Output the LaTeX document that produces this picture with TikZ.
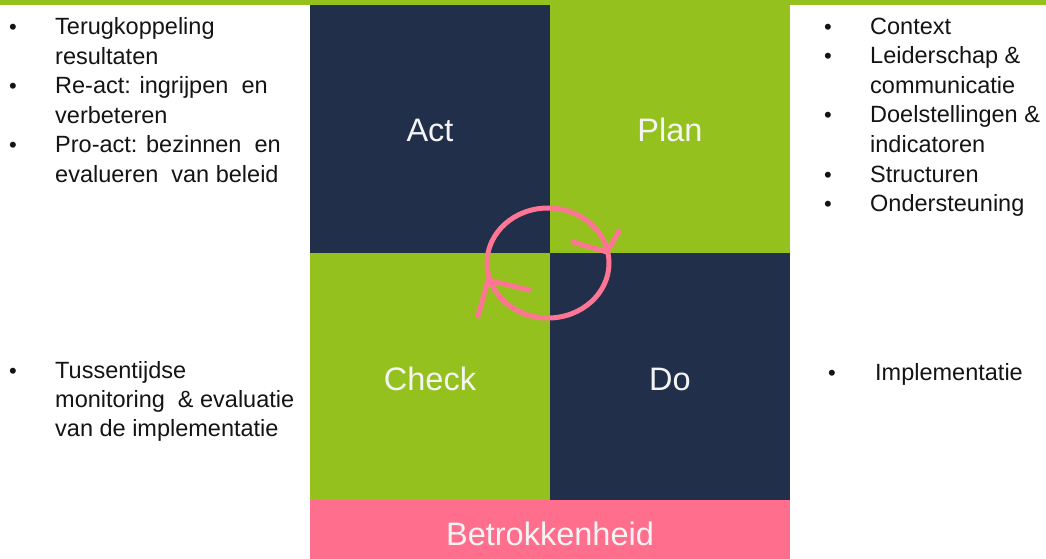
\documentclass[tikz,border=0pt]{standalone}
\usepackage{fontspec}
\setmainfont{Liberation Sans}
\definecolor{navy}{HTML}{212F4B}
\definecolor{lgreen}{HTML}{95C11F}
\definecolor{rose}{HTML}{FF6F8D}
\definecolor{arrowpink}{HTML}{FF7594}
\definecolor{txtwhite}{HTML}{F4F4F4}
\definecolor{txtdark}{HTML}{141414}
\begin{document}
\begin{tikzpicture}[x=1pt,y=-1pt,
  tile/.style={draw=none,inner sep=0pt,outer sep=0pt,anchor=north west},
  biglabel/.style={inner sep=0pt,anchor=base,text=txtwhite,font=\fontsize{32.5}{36}\selectfont},
  line/.style={inner sep=0pt,anchor=base west,text=txtdark,font=\fontsize{23.5}{29}\selectfont},
  bul/.style={inner sep=0pt,anchor=base,text=txtdark,font=\fontsize{22}{24}\selectfont},
  cyc/.style={draw=arrowpink,line width=5pt,line cap=round,line join=round}]
\useasboundingbox (0,0) rectangle (1046,559);
\fill[white] (0,0) rectangle (1046,559);
% top bar
\node[tile,fill=lgreen,minimum width=1046pt,minimum height=5pt] (topbar) at (0,0) {};
% tiles
\node[tile,fill=navy,minimum width=240pt,minimum height=248pt] (act) at (310,5) {};
\node[tile,fill=lgreen,minimum width=240pt,minimum height=248pt] (plan) at (550,5) {};
\node[tile,fill=lgreen,minimum width=240pt,minimum height=247pt] (check) at (310,253) {};
\node[tile,fill=navy,minimum width=240pt,minimum height=247pt] (do) at (550,253) {};
\node[tile,fill=rose,minimum width=480pt,minimum height=59pt] (betr) at (310,500) {};
% labels
\node[biglabel] (lact) at (430,142) {Act};
\node[biglabel] (lplan) at (670,142) {Plan};
\node[biglabel] (lcheck) at (430,390) {Check};
\node[biglabel] (ldo) at (670,390) {Do};
\node[biglabel] (lbetr) at (550,545) {Betrokkenheid};
% cycle
\draw[cyc] (548,263) ellipse [x radius=61, y radius=55];
\coordinate (a1s) at (573,242);
\coordinate (a1t) at (607,252);
\coordinate (a1e) at (619,231);
\coordinate (a2s) at (529,290);
\coordinate (a2t) at (488,280);
\coordinate (a2e) at (478,316);
\draw[cyc] (a1s) -- (a1t) -- (a1e);
\draw[cyc] (a2s) -- (a2t) -- (a2e);
% left top list
\node[bul] (b1) at (13,35) {•};
\node[line] (t1) at (55,35) {Terugkoppeling};
\node[line] (t2) at (55,64.5) {resultaten};
\node[bul] (b2) at (13,94) {•};
\node[line] (t3) at (55,94) {Re-act: ingrijpen\ \ en};
\node[line] (t4) at (55,123.5) {verbeteren};
\node[bul] (b3) at (13,153) {•};
\node[line] (t5) at (55,153) {Pro-act: bezinnen\ \ en};
\node[line] (t6) at (55,182) {evalueren\ \ van beleid};
% left bottom list
\node[bul] (b4) at (13,378) {•};
\node[line] (t7) at (55,378) {Tussentijdse};
\node[line] (t8) at (55,407) {monitoring\ \ \& evaluatie};
\node[line] (t9) at (55,436) {van\ de implementatie};
% right top list
\node[bul] (b5) at (828,35) {•};
\node[line] (r1) at (870,35) {Context};
\node[bul] (b6) at (828,64) {•};
\node[line] (r2) at (870,64) {Leiderschap \&};
\node[line] (r3) at (870,93.5) {communicatie};
\node[bul] (b7) at (828,123) {•};
\node[line] (r4) at (870,123) {Doelstellingen \&};
\node[line] (r5) at (870,152.5) {indicatoren};
\node[bul] (b8) at (828,182) {•};
\node[line] (r6) at (870,182) {Structuren};
\node[bul] (b9) at (828,211) {•};
\node[line] (r7) at (870,211) {Ondersteuning};
% right bottom
\node[bul] (b10) at (832,380) {•};
\node[line] (r8) at (875,380) {Implementatie};
\end{tikzpicture}
\end{document}
